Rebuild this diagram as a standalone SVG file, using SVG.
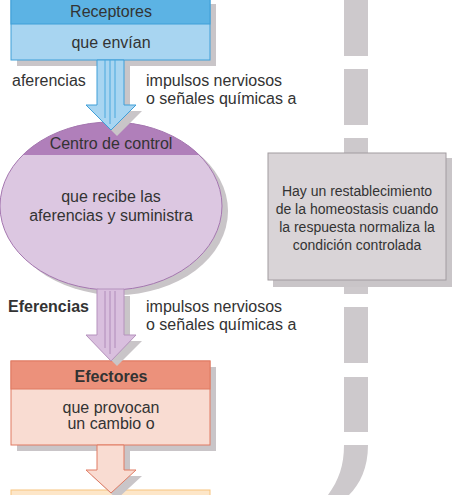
<svg xmlns="http://www.w3.org/2000/svg" width="455" height="495" viewBox="0 0 455 495">
<defs>
<style>
.t{font-family:"Liberation Sans",Arial,sans-serif;font-size:16px;fill:#333;}
.c{text-anchor:middle;}
.b{font-weight:bold;}
.s{font-family:"Liberation Sans",Arial,sans-serif;font-size:14px;fill:#333;text-anchor:middle;}
.sh{fill:#c9c5c8;}
.bar{fill:#cdc9cc;}
</style>
<clipPath id="eclip"><rect x="-10" y="100" width="260" height="55"/></clipPath>
</defs>
<rect width="455" height="495" fill="#ffffff"/>
<g id="dashbar">
<rect class="bar" x="344" y="0" width="24" height="56"/>
<rect class="bar" x="344" y="69" width="24" height="56"/>
<rect class="bar" x="344" y="138" width="24" height="20"/>
<rect class="bar" x="344" y="280" width="24" height="14"/>
<rect class="bar" x="344" y="307" width="24" height="56"/>
<rect class="bar" x="344" y="377" width="24" height="55"/>
<path class="bar" d="M344,445 L368,445 C368,468 360,484 349,495 L328,495 C339,480 344,465 344,445 Z"/>
</g>
<g id="nota">
<rect class="sh" x="273" y="158" width="179" height="129"/>
<rect x="268" y="153" width="178" height="127" fill="#d9d4d7" stroke="#a29ca0" stroke-width="1"/>
<text class="s" x="357" y="196">Hay un restablecimiento</text>
<text class="s" x="357" y="214">de la homeostasis cuando</text>
<text class="s" x="357" y="232">la respuesta normaliza la</text>
<text class="s" x="357" y="250">condición controlada</text>
</g>
<g id="receptores">
<rect class="sh" x="17" y="4" width="199" height="62"/>
<rect x="11" y="-2" width="199" height="62" fill="#a8d5f1" stroke="#3f9fd8" stroke-width="1"/>
<rect x="11" y="-2" width="199" height="26" fill="#5cb3e4" stroke="#3f9fd8" stroke-width="1"/>
<text class="t c" x="111" y="17">Receptores</text>
<text class="t c" x="111" y="48">que envían</text>
</g>
<g id="centro">
<ellipse class="sh" cx="117" cy="211" rx="111" ry="84"/>
<ellipse cx="111" cy="206" rx="111" ry="84" fill="#dcc7e1"/>
<ellipse cx="111" cy="206" rx="111" ry="84" fill="#b07fba" clip-path="url(#eclip)"/>
<ellipse cx="111" cy="206" rx="111" ry="84" fill="none" stroke="#a577b0" stroke-width="1"/>
<text class="t c" x="111" y="149">Centro de control</text>
<text class="t c" x="111" y="202">que recibe las</text>
<text class="t c" x="111" y="221">aferencias y suministra</text>
</g>
<g id="efectores">
<rect class="sh" x="17" y="367" width="199" height="84"/>
<rect x="11" y="361" width="199" height="84" fill="#f9dcd2" stroke="#e07a62" stroke-width="1"/>
<rect x="11" y="361" width="199" height="28" fill="#ec917b" stroke="#e07a62" stroke-width="1"/>
<text class="t c b" x="111" y="382">Efectores</text>
<text class="t c" x="111" y="413">que provocan</text>
<text class="t c" x="111" y="429">un cambio o</text>
</g>
<g id="respuesta">
<rect x="11" y="490" width="199" height="20" fill="#fde6c8" stroke="#f7c47e" stroke-width="1"/>
</g>
<g id="connectors">
<path class="sh" d="M103,66 L130,66 L130,111 L142,111 L117,136 L92,111 L103,111 Z"/>
<path d="M97,60 L124,60 L124,105 L136,105 L111,130 L86,105 L97,105 Z" fill="#a8d5f1" stroke="#3f9fd8" stroke-width="1"/>
<path d="M105,60 V118 M110,60 V124 M115,60 V118" stroke="#4aa8dd" stroke-width="1" fill="none"/>
<path class="sh" d="M103,296 L130,296 L130,341 L142,341 L117,366 L92,341 L103,341 Z"/>
<path d="M97,289 L124,289 L124,335 L136,335 L111,361 L86,335 L97,335 Z" fill="#d9bfde" stroke="#b592bd" stroke-width="1"/>
<path d="M105,291 V348 M110,291 V354 M115,291 V348" stroke="#b08cba" stroke-width="1" fill="none"/>
<path class="sh" d="M103,451 L130,451 L130,476 L142,476 L117,499 L92,476 L103,476 Z"/>
<path d="M97,445 L124,445 L124,470 L136,470 L111,493 L86,470 L97,470 Z" fill="#f9dcd2" stroke="#e07a62" stroke-width="1"/>
</g>
<g id="etiquetas">
<text class="t" x="12" y="86">aferencias</text>
<text class="t" x="146" y="86">impulsos nerviosos</text>
<text class="t" x="146" y="104">o señales químicas a</text>
<text class="t b" x="8" y="312">Eferencias</text>
<text class="t" x="146" y="312">impulsos nerviosos</text>
<text class="t" x="146" y="330">o señales químicas a</text>
</g>
</svg>
